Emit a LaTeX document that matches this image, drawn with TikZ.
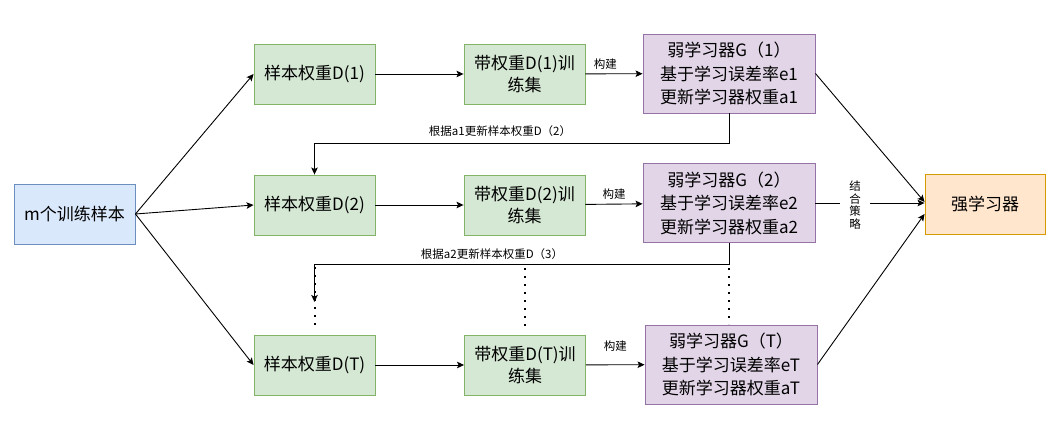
\documentclass[tikz,border=0pt]{standalone}
\usepackage{fontspec}
\setmainfont{Noto Sans CJK SC}
\usetikzlibrary{arrows.meta}
\definecolor{bfill}{HTML}{DAE8FC}\definecolor{bdraw}{HTML}{6C8EBF}
\definecolor{gfill}{HTML}{D5E8D4}\definecolor{gdraw}{HTML}{82B366}
\definecolor{pfill}{HTML}{E1D5E7}\definecolor{pdraw}{HTML}{9673A6}
\definecolor{ofill}{HTML}{FFE6CC}\definecolor{odraw}{HTML}{D79B00}
\begin{document}
\begin{tikzpicture}[x=1pt,y=-1pt,
  box/.style={draw, line width=0.9pt, minimum width=121pt, minimum height=60pt, inner sep=0pt, align=center, font=\fontsize{17}{22}\selectfont},
  gbox/.style={box, minimum width=172pt, minimum height=79pt, font=\fontsize{17}{23.5}\selectfont},
  bluebox/.style={fill=bfill, draw=bdraw},
  greenbox/.style={fill=gfill, draw=gdraw},
  purplebox/.style={fill=pfill, draw=pdraw},
  orangebox/.style={fill=ofill, draw=odraw},
  arr/.style={-{Stealth[length=7pt,width=6.5pt,inset=1.5pt]}, line width=0.9pt},
  plain/.style={line width=0.9pt},
  dotline/.style={line width=2pt, dash pattern=on 2pt off 6pt},
  lbl/.style={font=\fontsize{11.5}{15}\selectfont, inner sep=1pt}]
\useasboundingbox (0,0) rectangle (1058,433);
% nodes
\node[box,bluebox] (m) at (74.5,214) {m个训练样本};
\node[box,greenbox] (d1) at (314.5,74) {样本权重D(1)};
\node[box,greenbox] (t1) at (524.5,74) {带权重D(1)训\\练集};
\node[gbox,purplebox] (g1) at (729,73.5) {弱学习器G（1）\\基于学习误差率e1\\更新学习器权重a1};
\node[box,greenbox] (d2) at (314.5,205) {样本权重D(2)};
\node[box,greenbox] (t2) at (524.5,205) {带权重D(2)训\\练集};
\node[gbox,purplebox] (g2) at (729,203) {弱学习器G（2）\\基于学习误差率e2\\更新学习器权重a2};
\node[box,greenbox] (d3) at (314.5,365) {样本权重D(T)};
\node[box,greenbox] (t3) at (525,365) {带权重D(T)训\\练集};
\node[gbox,purplebox] (g3) at (731,364.5) {弱学习器G（T）\\基于学习误差率eT\\更新学习器权重aT};
\node[box,orangebox, minimum width=120pt] (s) at (985,204) {强学习器};
% from samples
\draw[arr] (m.east) -- (d1.west);
\draw[arr] (m.east) -- (d2.west);
\draw[arr] (m.east) -- (d3.west);
% rows
\draw[arr] (d1) -- (t1);
\draw[arr] (t1) -- node[lbl, above=3pt, pos=0.35] {构建} (g1);
\draw[arr] (d2) -- (t2);
\draw[arr] (t2) -- node[lbl, above=3pt, pos=0.5] {构建} (g2);
\draw[arr] (d3) -- (t3);
\draw[arr] (t3) -- node[lbl, above=12pt, pos=0.5] {构建} (g3);
% feedback 1
\coordinate (c1) at (729,143);
\draw[arr] (g1.south) -- (c1) -| (d2.north);
\node[lbl] (l1) at (500,131) {根据a1更新样本权重D（2）};
% feedback 2
\coordinate (c2) at (729,264);
\coordinate (e2) at (314.5,302);
\draw[arr] (g2.south) -- (c2) -| (e2);
\node[lbl] (l2) at (492,254) {根据a2更新样本权重D（3）};
% dotted continuations
\coordinate (q1) at (314.5,267);
\coordinate (q1e) at (314.5,326);
\coordinate (q2) at (524.5,268);
\coordinate (q2e) at (524.5,326);
\coordinate (q3) at (729,268);
\coordinate (q4) at (729,324);
\draw[dotline] (q1) -- (q1e);
\draw[dotline] (q2) -- (q2e);
\draw[dotline] (q3) -- (q4);
% to strong learner
\coordinate (k0) at (840,203);
\coordinate (k1) at (870,203);
\draw[arr] (g1.east) -- ([yshift=2pt]s.west);
\draw[arr] (g3.east) -- ([yshift=-10pt]s.west);
\draw[plain] (g2.east) -- (k0);
\draw[arr] (k1) -- ([yshift=1pt]s.west);
\node[lbl, font=\fontsize{11.5}{12.8}\selectfont, align=center] (k) at (855,205) {结\\合\\策\\略};
\end{tikzpicture}
\end{document}
